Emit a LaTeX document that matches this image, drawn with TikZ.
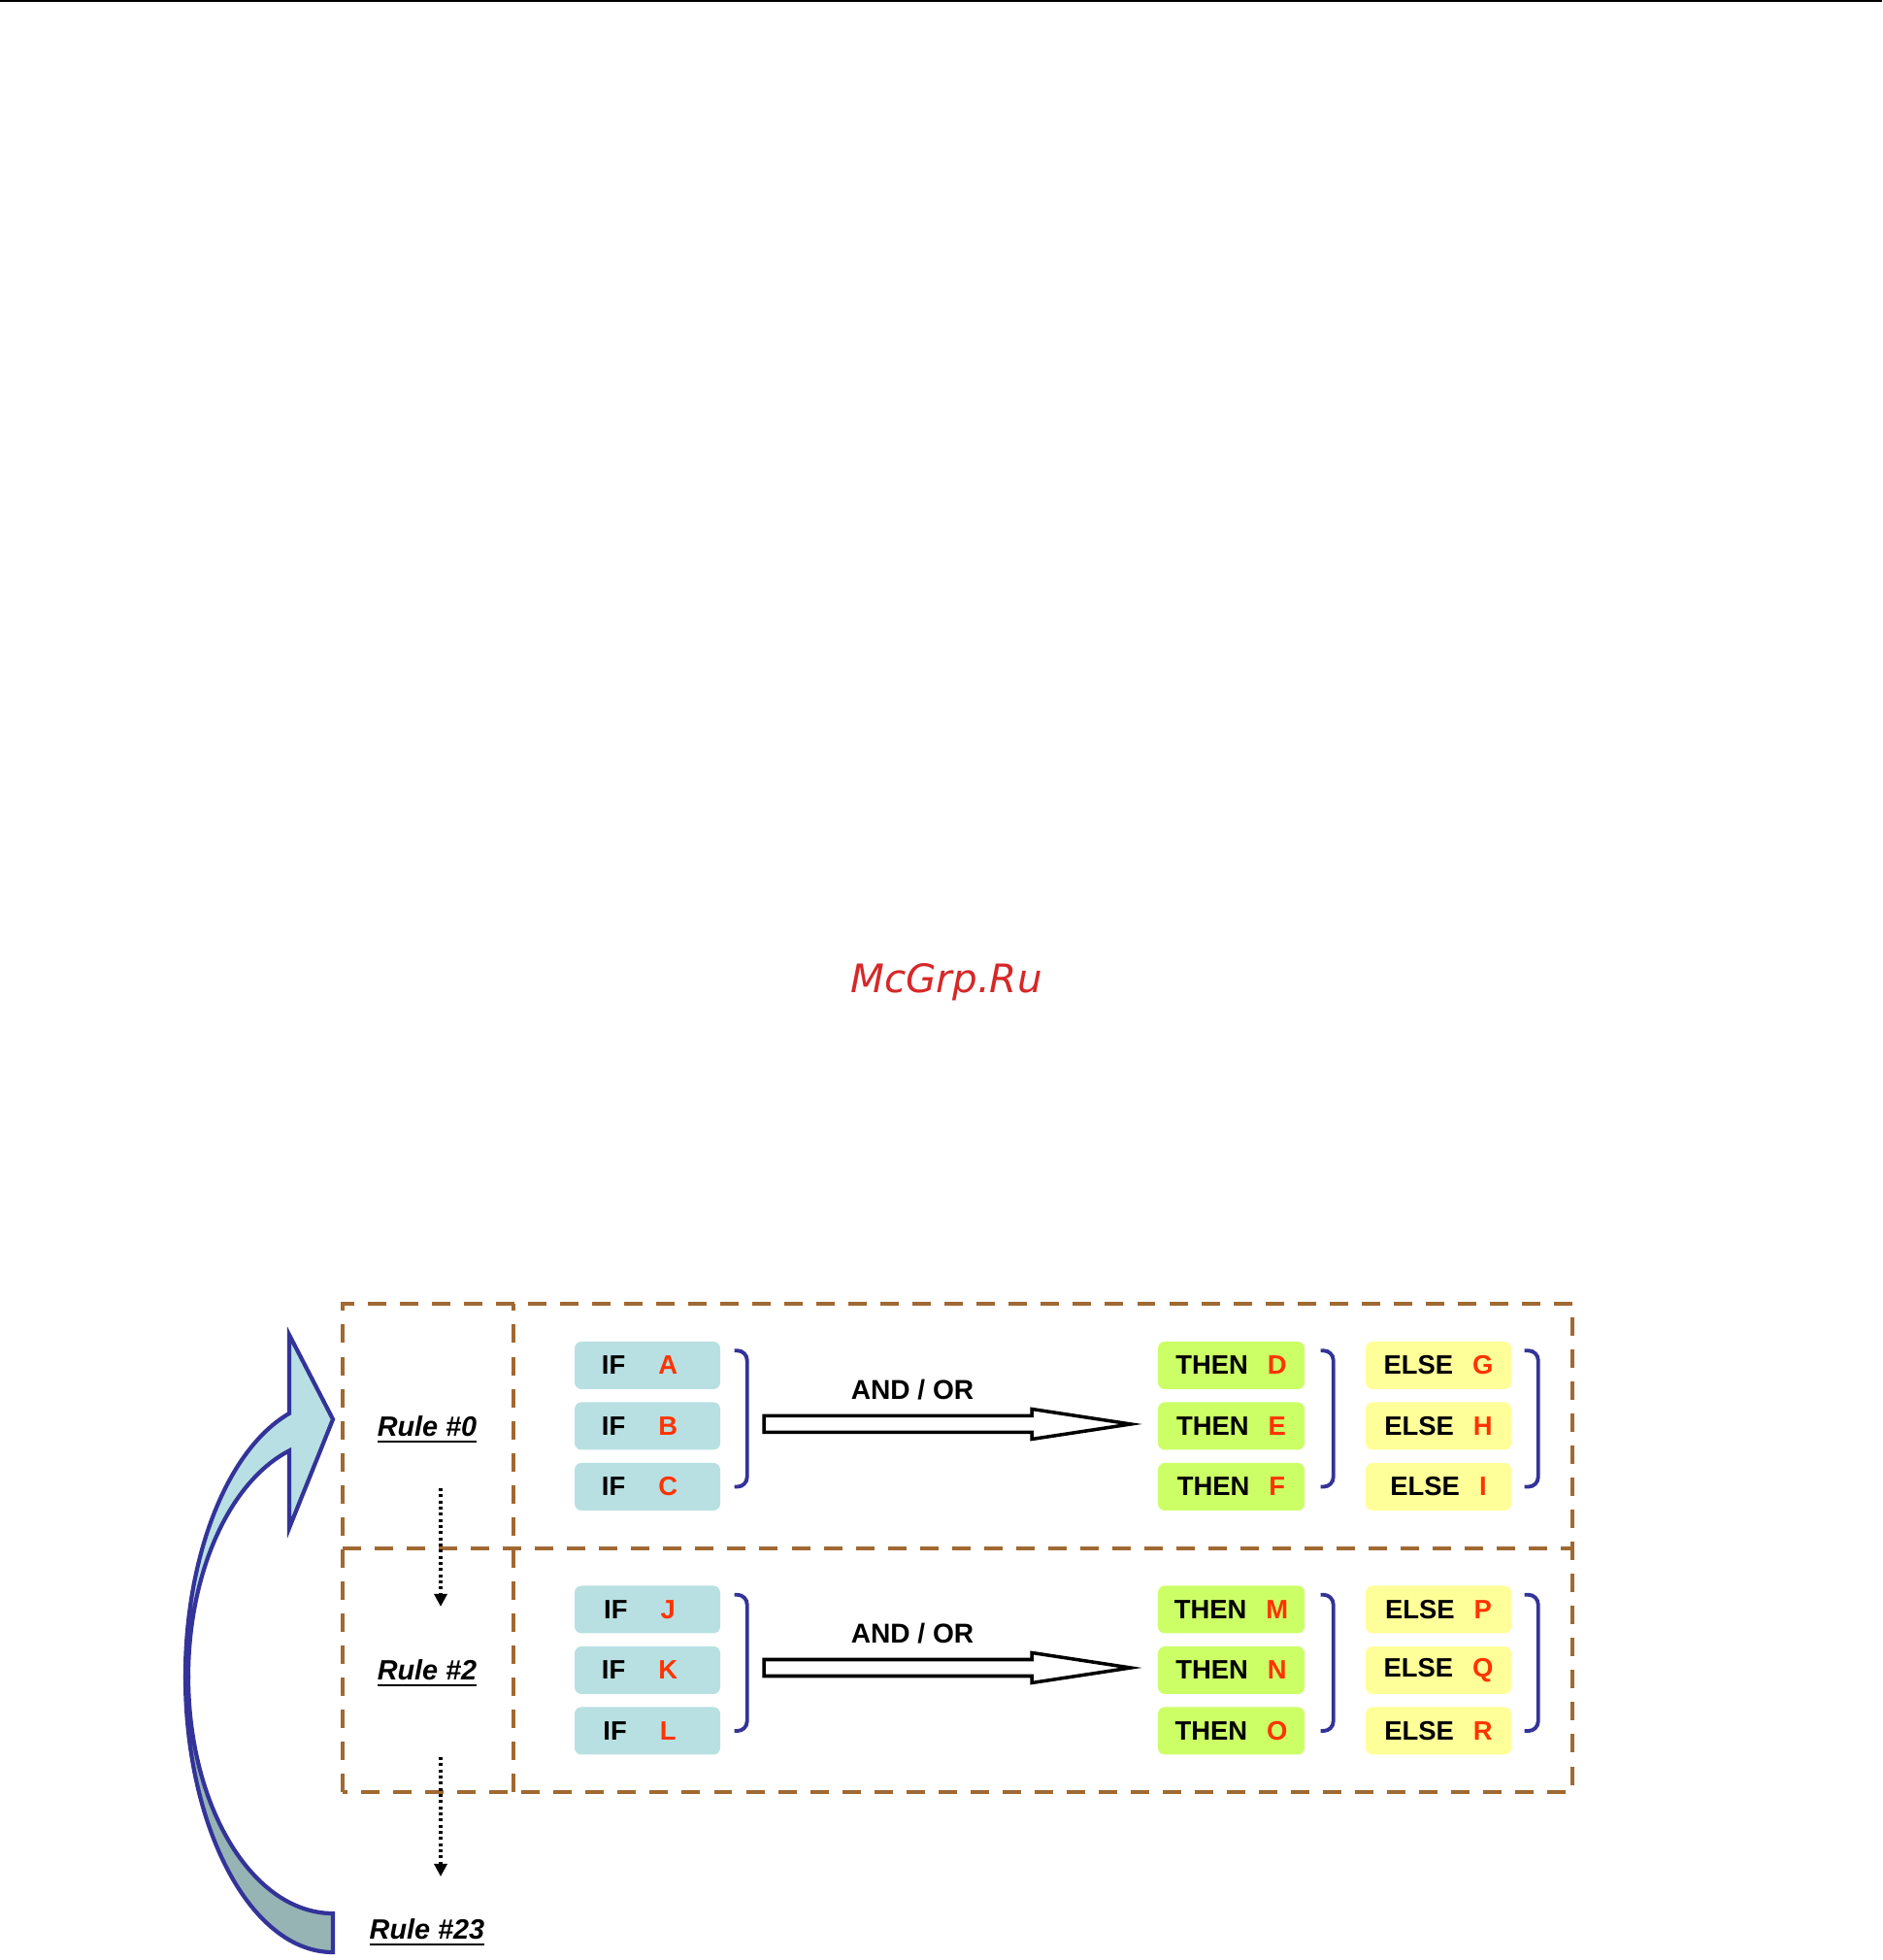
\documentclass[tikz,border=0pt]{standalone}
\usepackage{fontspec}
\setmainfont{Liberation Sans}
\newfontfamily\markfont{DejaVu Sans}
\usepackage{xcolor}
\usetikzlibrary{arrows.meta,calc,positioning}
\definecolor{ifcyan}{RGB}{184,224,226}
\definecolor{thengreen}{RGB}{204,255,102}
\definecolor{elseyellow}{RGB}{255,255,153}
\definecolor{letterred}{RGB}{255,51,0}
\definecolor{bracketblue}{RGB}{51,51,153}
\definecolor{borderbrown}{RGB}{160,105,50}
\definecolor{arrowlight}{RGB}{184,224,228}
\definecolor{arrowdark}{RGB}{150,180,180}
\definecolor{markred}{RGB}{214,40,40}

\begin{document}
\begin{tikzpicture}[
  every node/.style={font=\fontsize{7.8}{9}\selectfont\bfseries},
  ifbox/.style={fill=ifcyan, rounded corners=0.07cm, minimum width=1.50cm,
    minimum height=0.49cm, inner sep=0pt},
  thenbox/.style={ifbox, fill=thengreen, minimum width=1.51cm},
  elsebox/.style={ifbox, fill=elseyellow, minimum width=1.50cm},
  rulelabel/.style={font=\fontsize{8.2}{10}\selectfont\bfseries\itshape, anchor=base},
  ruleborder/.style={borderbrown, line width=1.3pt, dash pattern=on 5.4pt off 4pt},
  bracket/.style={bracketblue, line width=1.1pt, rounded corners=0.1cm},
  implies/.style={draw=black, fill=white, line width=1pt},
  nextrule/.style={-{Triangle[length=1.3mm,width=1.3mm]}, line width=0.9pt,
    dash pattern=on 0.9pt off 0.9pt},
  loopback/.style={draw=bracketblue, line width=1.2pt},
]

% ===== Overall dimensions =====
% page: x in [0, 19.39], y in [0, 20.19]
\useasboundingbox (0,0) rectangle (19.39,20.19);

% Rule at the very top of the page
\fill[black] (0,20.17) rectangle (19.39,20.19);

% Watermark
\node[markred, font=\markfont\itshape\fontsize{11.5}{13}\selectfont, anchor=base]
  (watermark) at (9.75,9.96) {McGrp.Ru};

%% ---- RULE TABLE FRAME ----
\draw[ruleborder] (3.53,1.73) rectangle (16.20,6.76);
\draw[ruleborder] (3.53,4.24) -- (16.20,4.24);
\draw[ruleborder] (5.29,1.73) -- (5.29,6.76);

% Rule names
\node[rulelabel] (rule0) at (4.40,5.39) {\underline{Rule \#0}};
\node[rulelabel] (rule2) at (4.40,2.88) {\underline{Rule \#2}};
\node[rulelabel] (rule23) at (4.40,0.21) {\underline{Rule \#23}};

% Dotted arrows: rule to next rule
\coordinate (next0) at (4.54,4.86);
\coordinate (next2) at (4.54,3.64);
\coordinate (next2b) at (4.54,2.09);
\coordinate (next23) at (4.54,0.86);
\draw[nextrule] (next0) -- (next2);
\draw[nextrule] (next2b) -- (next23);

%% ---- RULE #0 ----
\node[ifbox] (ifA) at (6.67,6.125) {IF\hspace{0.34cm}\textcolor{letterred}{A}\kern0.16cm};
\node[ifbox] (ifB) at (6.67,5.50) {IF\hspace{0.34cm}\textcolor{letterred}{B}\kern0.16cm};
\node[ifbox] (ifC) at (6.67,4.875) {IF\hspace{0.34cm}\textcolor{letterred}{C}\kern0.16cm};

\node[thenbox] (thenD) at (12.685,6.125) {THEN\hspace{0.2cm}\textcolor{letterred}{D}};
\node[thenbox] (thenE) at (12.685,5.50) {THEN\hspace{0.2cm}\textcolor{letterred}{E}};
\node[thenbox] (thenF) at (12.685,4.875) {THEN\hspace{0.2cm}\textcolor{letterred}{F}};

\node[elsebox] (elseG) at (14.82,6.125) {ELSE\hspace{0.2cm}\textcolor{letterred}{G}};
\node[elsebox] (elseH) at (14.82,5.50) {ELSE\hspace{0.2cm}\textcolor{letterred}{H}};
\node[elsebox] (elseI) at (14.82,4.875) {ELSE\hspace{0.2cm}\textcolor{letterred}{I}};

% Brackets
\draw[bracket] ($(ifA.north east)+(0.14,-0.10)$) -- ($(ifA.north east)+(0.27,-0.10)$)
  -- ($(ifC.east)+(0.27,0)$) -- ($(ifC.east)+(0.14,0)$);
\draw[bracket] ($(thenD.north east)+(0.16,-0.10)$) -- ($(thenD.north east)+(0.29,-0.10)$)
  -- ($(thenF.east)+(0.29,0)$) -- ($(thenF.east)+(0.16,0)$);
\draw[bracket] ($(elseG.north east)+(0.13,-0.10)$) -- ($(elseG.north east)+(0.27,-0.10)$)
  -- ($(elseI.east)+(0.27,0)$) -- ($(elseI.east)+(0.13,0)$);

% Hollow arrow IF -> THEN
\coordinate (imp0s) at (7.87,5.52);
\coordinate (imp0e) at (11.65,5.52);
\draw[implies] ($(imp0s)+(0,0.085)$) -- ($(imp0e)+(-1.02,0.085)$)
  -- ($(imp0e)+(-1.02,0.155)$) -- (imp0e) -- ($(imp0e)+(-1.02,-0.155)$)
  -- ($(imp0e)+(-1.02,-0.085)$) -- ($(imp0s)+(0,-0.085)$) -- cycle;
\node[font=\fontsize{8}{9}\selectfont\bfseries] (andor0) at (9.40,5.87) {AND / OR};

%% ---- RULE #2 ----
\node[ifbox] (ifJ) at (6.67,3.61) {IF\hspace{0.34cm}\textcolor{letterred}{J}\kern0.16cm};
\node[ifbox] (ifK) at (6.67,2.985) {IF\hspace{0.34cm}\textcolor{letterred}{K}\kern0.16cm};
\node[ifbox] (ifL) at (6.67,2.36) {IF\hspace{0.34cm}\textcolor{letterred}{L}\kern0.16cm};

\node[thenbox] (thenM) at (12.685,3.61) {THEN\hspace{0.2cm}\textcolor{letterred}{M}};
\node[thenbox] (thenN) at (12.685,2.985) {THEN\hspace{0.2cm}\textcolor{letterred}{N}};
\node[thenbox] (thenO) at (12.685,2.36) {THEN\hspace{0.2cm}\textcolor{letterred}{O}};

\node[elsebox] (elseP) at (14.82,3.61) {ELSE\hspace{0.2cm}\textcolor{letterred}{P}};
\node[elsebox] (elseQ) at (14.82,2.985) {ELSE\hspace{0.2cm}\textcolor{letterred}{Q}};
\node[elsebox] (elseR) at (14.82,2.36) {ELSE\hspace{0.2cm}\textcolor{letterred}{R}};

% Brackets
\draw[bracket] ($(ifJ.north east)+(0.14,-0.10)$) -- ($(ifJ.north east)+(0.27,-0.10)$)
  -- ($(ifL.east)+(0.27,0)$) -- ($(ifL.east)+(0.14,0)$);
\draw[bracket] ($(thenM.north east)+(0.16,-0.10)$) -- ($(thenM.north east)+(0.29,-0.10)$)
  -- ($(thenO.east)+(0.29,0)$) -- ($(thenO.east)+(0.16,0)$);
\draw[bracket] ($(elseP.north east)+(0.13,-0.10)$) -- ($(elseP.north east)+(0.27,-0.10)$)
  -- ($(elseR.east)+(0.27,0)$) -- ($(elseR.east)+(0.13,0)$);

% Hollow arrow IF -> THEN
\coordinate (imp2s) at (7.87,3.01);
\coordinate (imp2e) at (11.65,3.01);
\draw[implies] ($(imp2s)+(0,0.085)$) -- ($(imp2e)+(-1.02,0.085)$)
  -- ($(imp2e)+(-1.02,0.155)$) -- (imp2e) -- ($(imp2e)+(-1.02,-0.155)$)
  -- ($(imp2e)+(-1.02,-0.085)$) -- ($(imp2s)+(0,-0.085)$) -- cycle;
\node[font=\fontsize{8}{9}\selectfont\bfseries] (andor2) at (9.40,3.36) {AND / OR};

%% ---- LOOP-BACK ARROW (Rule #23 -> Rule #0) ----
% front face (upper half, with head)
\draw[loopback, fill=arrowlight] (2.98,5.63)
  arc[start angle=107.2, end angle=180, x radius=1.52cm, y radius=2.84cm]
  -- (1.94,2.92)
  arc[start angle=180, end angle=107.6, x radius=1.49cm, y radius=2.44cm]
  -- (2.98,4.45) -- (3.43,5.57) -- (2.98,6.44) -- cycle;
% back face (lower half, with tail)
\draw[loopback, fill=arrowdark] (1.91,2.92)
  arc[start angle=180, end angle=270, x radius=1.52cm, y radius=2.84cm]
  -- (3.43,0.48)
  arc[start angle=270, end angle=180, x radius=1.49cm, y radius=2.44cm]
  -- cycle;

\end{tikzpicture}
\end{document}
